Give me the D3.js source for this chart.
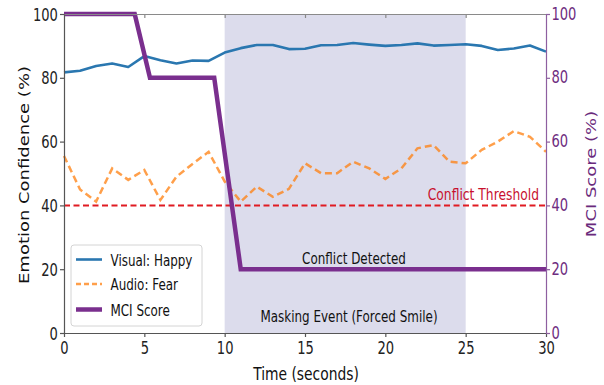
<!DOCTYPE html>
<html><head><meta charset="utf-8">
<script src="https://cdn.jsdelivr.net/npm/d3@7"></script>
<style>body{margin:0;background:#fff}svg{display:block}</style>
</head><body>
<svg id="c" width="604" height="385"></svg>
<script>
const time = d3.range(0, 31);
const visualHappy = [81.7,82.2,83.7,84.5,83.4,86.8,85.5,84.5,85.4,85.3,87.9,89.3,90.3,90.3,89.0,89.1,90.2,90.3,90.9,90.4,90.0,90.3,90.8,90.1,90.3,90.5,90.0,88.7,89.2,90.1,88.2];
const audioFear = [55.5,45.0,41.2,51.6,48.0,51.1,41.7,49.0,53.0,56.8,47.5,41.2,45.9,42.7,45.2,53.2,50.1,50.1,53.7,51.6,48.3,51.6,57.9,58.9,53.7,53.2,57.4,60.0,63.3,61.5,56.8];
const mciTime = [0, 4.4, 5.35, 9.35, 11.0, 30];
const mciScore = [100, 100, 80, 80, 20, 20];
const xTicks = [0,5,10,15,20,25,30];
const yTicks = [0,20,40,60,80,100];
const threshold = 40;
const maskStart = 10, maskEnd = 25;
const labels = {x:"Time (seconds)", yl:"Emotion Confidence (%)", yr:"MCI Score (%)",
  thr:"Conflict Threshold", det:"Conflict Detected", mask:"Masking Event (Forced Smile)"};
const legendItems = ["Visual: Happy","Audio: Fear","MCI Score"];

const K = 0.77; // horizontal text squeeze
const FONT = "DejaVu Sans";
const svg = d3.select("#c");
const L = 64, R = 546, T = 14, B = 333;
const x = d3.scaleLinear().domain([0,30]).range([L,R]);
const yL = d3.scaleLinear().domain([0,100]).range([B,T]);
const yR = d3.scaleLinear().domain([0,100]).range([B,T]);

const BLUE = "#2a77b0", ORANGE = "#ff7f0e", RED = "#e01b22", PURPLE = "#7a2f8e";

function ctext(g, px, py, str, size, anchor, fill, rot){
  return g.append("text")
    .attr("transform", `translate(${px},${py}) scale(${K},1)` + (rot ? ` rotate(${rot})` : ""))
    .attr("text-anchor", anchor).attr("font-family", FONT).attr("font-size", size)
    .attr("fill", fill).text(str);
}

// shading
svg.append("rect").attr("x", x(maskStart)).attr("y", T)
  .attr("width", x(maskEnd)-x(maskStart)).attr("height", B-T).attr("fill", "#dcdcec");

// visual line
svg.append("path").datum(time.map((t,i)=>[t, visualHappy[i]]))
  .attr("d", d3.line().x(d=>x(d[0])).y(d=>yL(d[1])))
  .attr("fill","none").attr("stroke",BLUE).attr("stroke-width",2.6).attr("stroke-linejoin","round");
// audio line
svg.append("path").datum(time.map((t,i)=>[t, audioFear[i]]))
  .attr("d", d3.line().x(d=>x(d[0])).y(d=>yL(d[1])))
  .attr("fill","none").attr("stroke",ORANGE).attr("stroke-opacity",0.75).attr("stroke-width",2.5)
  .attr("stroke-dasharray","7,4");
// threshold
svg.append("line").attr("x1",L).attr("x2",R).attr("y1",yL(threshold)).attr("y2",yL(threshold))
  .attr("stroke",RED).attr("stroke-width",2).attr("stroke-dasharray","6,3.5");
ctext(svg, 539, 200, labels.thr, 16, "end", "#c8102e");
ctext(svg, 354, 264, labels.det, 15.5, "middle", "#111");
ctext(svg, 349, 322, labels.mask, 15.5, "middle", "#111");

// MCI
svg.append("path").datum(mciTime.map((t,i)=>[t, mciScore[i]]))
  .attr("d", d3.line().x(d=>x(d[0])).y(d=>yR(d[1])))
  .attr("fill","none").attr("stroke",PURPLE).attr("stroke-width",4.5).attr("stroke-linejoin","miter");

// axes
function styleAxis(g, color, textColor){
  g.select(".domain").attr("stroke", color).attr("stroke-width", 1.2);
  g.selectAll(".tick line").attr("stroke", color).attr("stroke-width", 1.2);
  g.selectAll(".tick text").attr("fill", textColor).attr("font-family", FONT).attr("font-size", 17)
    .attr("transform", `scale(${K},1)`);
}
const gTop = svg.append("g").attr("transform",`translate(0,${T})`)
  .call(d3.axisTop(x).tickValues([5,10,15,20,25]).tickSize(-4).tickSizeOuter(0).tickFormat(""));
styleAxis(gTop, "#8a8a8a", "#000");
const gB = svg.append("g").attr("transform",`translate(0,${B})`)
  .call(d3.axisBottom(x).tickValues(xTicks).tickSize(4).tickSizeOuter(0).tickPadding(5));
styleAxis(gB, "#555", "#222");
const gL = svg.append("g").attr("transform",`translate(${L},0)`)
  .call(d3.axisLeft(yL).tickValues(yTicks).tickSize(4).tickSizeOuter(0).tickPadding(4));
styleAxis(gL, "#555", "#222");
gL.selectAll(".tick text").attr("dy","0.36em");
const gR = svg.append("g").attr("transform",`translate(${R},0)`)
  .call(d3.axisRight(yR).tickValues(yTicks).tickSize(4).tickSizeOuter(0).tickPadding(3));
styleAxis(gR, "#8e5fa0", "#6e2c80");
gR.selectAll(".tick text").attr("dy","0.3em");

// axis labels
ctext(svg, 306, 380, labels.x, 18, "middle", "#111");
ctext(svg, 29, 175, labels.yl, 18, "middle", "#111", -90);
ctext(svg, 596, 174, labels.yr, 18, "middle", "#6a2a7c", -90);

// legend
const lg = svg.append("g");
lg.append("rect").attr("x",71).attr("y",245).attr("width",131).attr("height",81).attr("rx",3)
  .attr("fill","#fff").attr("fill-opacity",0.9).attr("stroke","#d4d4d4").attr("stroke-width",1);
const legY = [259.5, 284, 309.5];
const legStyle = [
  {c:BLUE, w:2.6, d:null, o:1},
  {c:ORANGE, w:2.5, d:"5,3", o:0.75},
  {c:PURPLE, w:4.5, d:null, o:1}];
legendItems.forEach((name,i)=>{
  const s = legStyle[i];
  lg.append("line").attr("x1",76).attr("x2",102).attr("y1",legY[i]).attr("y2",legY[i])
    .attr("stroke",s.c).attr("stroke-width",s.w).attr("stroke-opacity",s.o)
    .attr("stroke-dasharray", s.d);
  ctext(lg, 110.5, legY[i]+6, name, 15.5, "start", "#111");
});
</script>
</body></html>
